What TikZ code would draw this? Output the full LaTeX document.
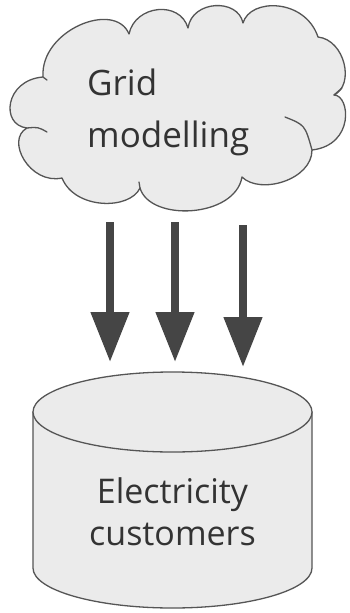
\documentclass[tikz,border=0pt]{standalone}
\usepackage{fontspec}
\setmainfont{Open Sans}
\usetikzlibrary{arrows.meta}
\definecolor{shapefill}{HTML}{EBEBEB}
\definecolor{shapeline}{HTML}{555555}
\definecolor{arrowcol}{HTML}{454545}
\definecolor{txtcol}{HTML}{333333}
\tikzset{
  outline/.style={draw=shapeline, line width=1.3pt, fill=shapefill, line join=round},
  tail/.style={draw=shapeline, line width=1.3pt, line cap=round},
  bigarrow/.style={draw=arrowcol, line width=8pt, -{Triangle[width=37pt,length=50pt]}},
  label/.style={text=txtcol, inner sep=0pt},
  cloudlabel/.style={label, font=\fontsize{35}{42}\selectfont},
  cyllabel/.style={label, font=\fontsize{34}{40}\selectfont}
}
\begin{document}
\begin{tikzpicture}[x=1pt,y=-1pt]
\useasboundingbox (0,0) rectangle (350,613);
% cloud
\coordinate (A) at (43,77);
\coordinate (B) at (129,34);
\coordinate (C) at (188,28);
\coordinate (D) at (243,23);
\coordinate (E) at (318,37);
\coordinate (F) at (334,95);
\coordinate (G) at (312,150);
\coordinate (H) at (242,177);
\coordinate (K) at (140,188);
\coordinate (I) at (62,178);
\coordinate (J) at (27,128);
\path[outline] (A) .. controls (40,30) and (115,0) .. (B)
  .. controls (135,5) and (180,0) .. (C)
  .. controls (192,0) and (238,-2) .. (D)
  .. controls (250,-2) and (305,-2) .. (E)
  .. controls (345,40) and (355,85) .. (F)
  .. controls (350,95) and (355,145) .. (G)
  .. controls (312,180) and (260,195) .. (H)
  .. controls (235,218) and (150,222) .. (K)
  .. controls (130,210) and (75,210) .. (I)
  .. controls (30,185) and (5,140) .. (J)
  .. controls (0,125) and (5,80) .. cycle;
\coordinate (Gt) at (285,117);
\coordinate (Jt) at (47,132);
\coordinate (Ft) at (342,88);
\coordinate (At) at (47,80);
\coordinate (Kt) at (139,182);
\draw[tail] (Gt) .. controls (305,125) .. (G);
\draw[tail] (J) .. controls (38,127) .. (Jt);
\draw[tail] (F) -- (Ft);
\draw[tail] (A) -- (At);
\draw[tail] (K) -- (Kt);
\node[cloudlabel, anchor=base west] (grid) at (87,95) {Grid};
\node[cloudlabel, anchor=base west] (model) at (87,147) {modelling};
% cylinder
\path[outline] (33,412) -- (33,568) arc[start angle=180, end angle=0, x radius=139.5, y radius=40] -- (312,412) -- cycle;
\path[outline] (172.5,412) ellipse[x radius=139.5, y radius=40];
\node[cyllabel, anchor=base] (elec) at (172.5,503) {Electricity};
\node[cyllabel, anchor=base] (cust) at (172.5,545) {customers};
% arrows
\coordinate (s1) at (110,222);
\coordinate (e1) at (110,362);
\coordinate (s2) at (175,222);
\coordinate (e2) at (175,362);
\coordinate (s3) at (243,225);
\coordinate (e3) at (243,367);
\draw[bigarrow] (s1) -- (e1);
\draw[bigarrow] (s2) -- (e2);
\draw[bigarrow] (s3) -- (e3);
\end{tikzpicture}
\end{document}
